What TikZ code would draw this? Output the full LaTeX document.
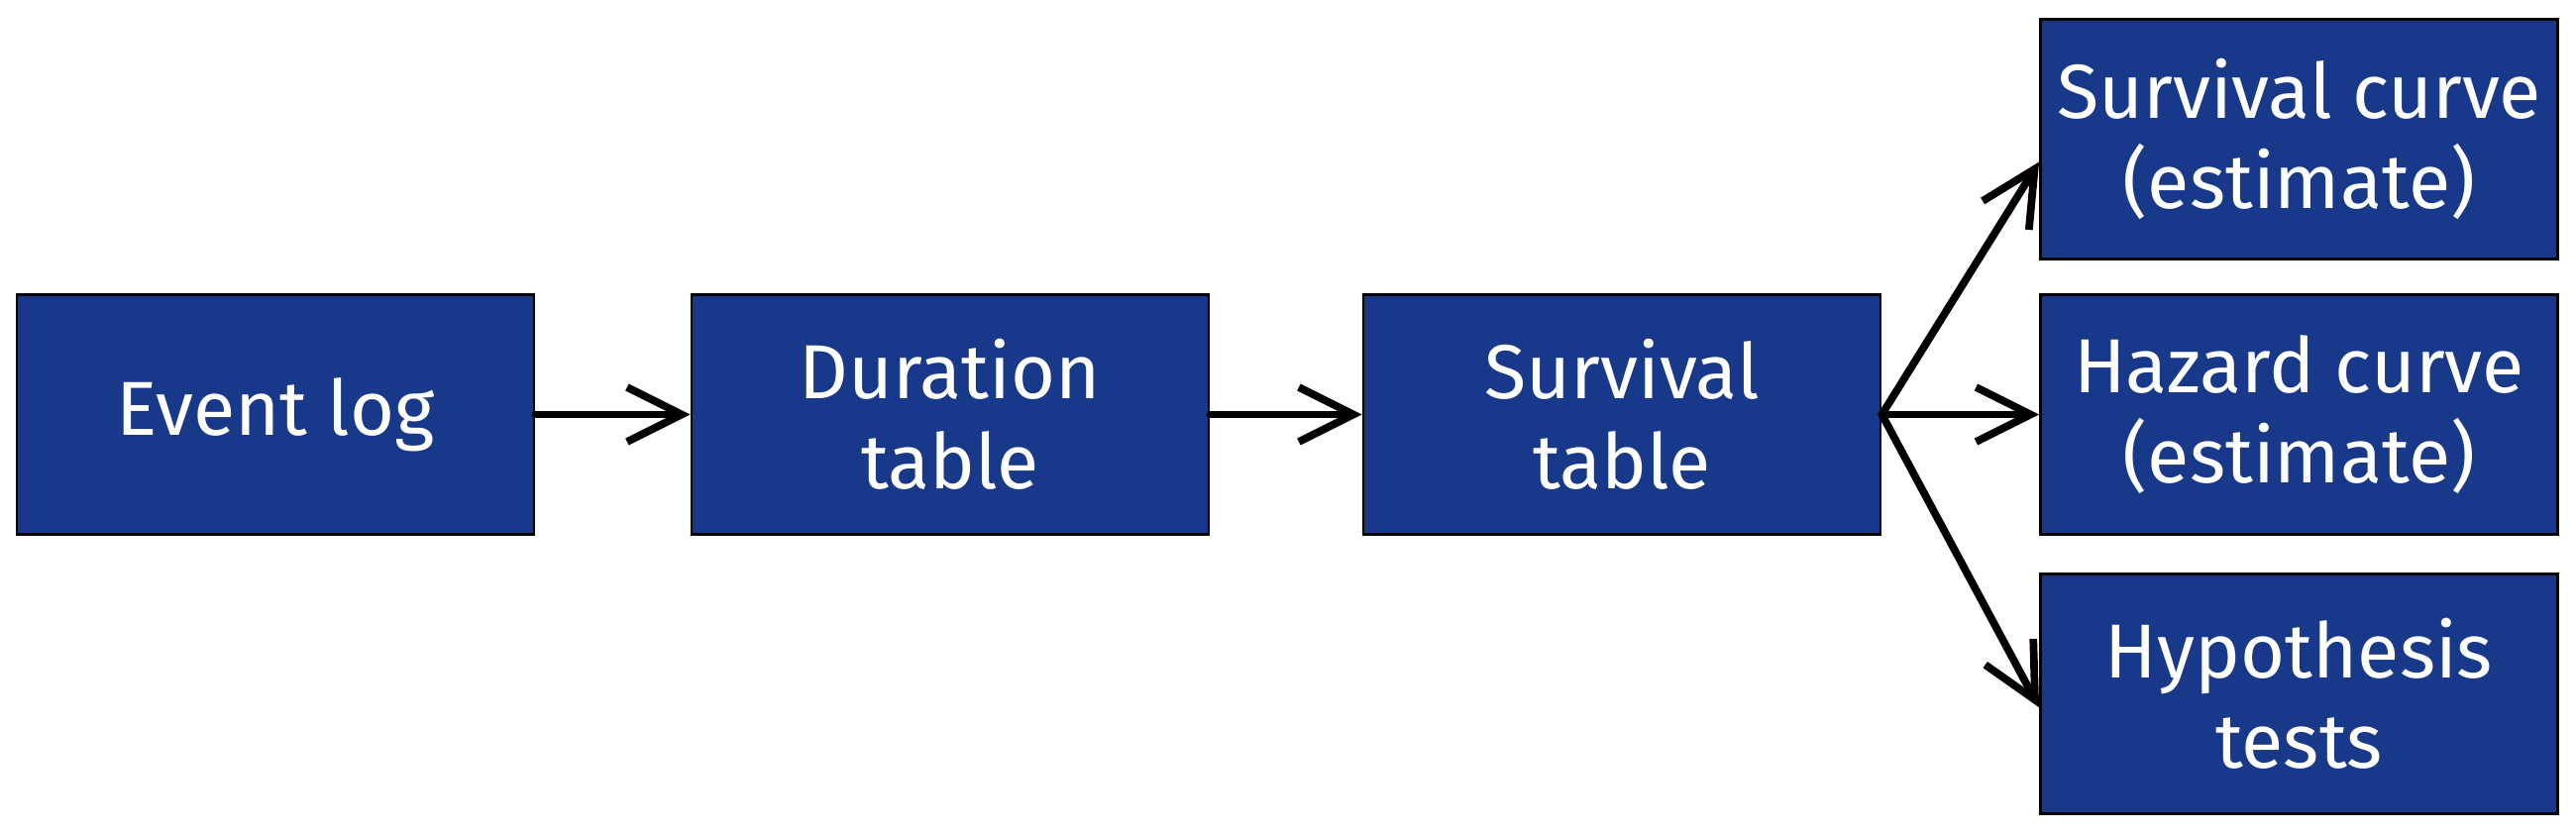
\documentclass[tikz,border=0pt]{standalone}
\usepackage{fontspec}
\setmainfont{Fira Sans}
\usetikzlibrary{arrows.meta}
\definecolor{boxblue}{RGB}{24,56,138}
\begin{document}
\begin{tikzpicture}[line cap=round, box node/.style={rectangle,draw=black,line width=0.8pt,fill=boxblue,text=white,minimum width=5.22cm,minimum height=2.42cm,inner sep=0pt,align=center,font=\fontsize{22}{26}\selectfont}, flow/.style={line width=2.2pt,-{Straight Barb[length=0.55cm,width=0.55cm]}}]
\useasboundingbox (0,0) rectangle (26,8.4);
\begin{scope}[every node/.style={box node}]
\node (el) at (2.78,4.215) {Event log};
\node (dt) at (9.59,4.215) {Duration\\table};
\node (st) at (16.37,4.215) {Survival\\table};
\node (sc) at (23.205,6.995) {Survival curve\\(estimate)};
\node (hc) at (23.205,4.215) {Hazard curve\\(estimate)};
\node (ht) at (23.205,1.395) {Hypothesis\\tests};
\end{scope}
\draw [flow] (el) -- (dt);
\draw [flow] (dt) -- (st);
\draw [flow] (st.east) -- (sc.185);
\draw [flow] (st.east) -- (hc.west);
\draw [flow] (st.east) -- (ht.183);
\end{tikzpicture}
\end{document}
